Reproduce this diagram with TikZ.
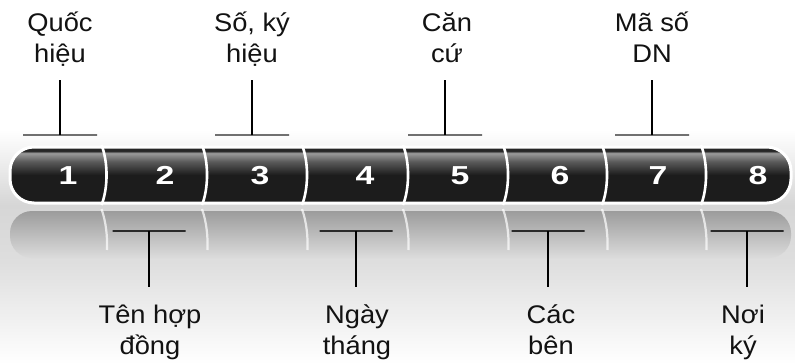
\documentclass[tikz,border=0pt]{standalone}
\usepackage{fontspec}
\setmainfont{Liberation Sans}
\newfontfamily\lblfont[FakeStretch=1.07]{Liberation Sans}
\newfontfamily\numfont[FakeStretch=1.3]{Liberation Sans}

\definecolor{barDark}{HTML}{1C1C1C}
\definecolor{barMid}{HTML}{5A5A5A}
\definecolor{barHi}{HTML}{9A9A9A}
\definecolor{barTop}{HTML}{262626}
\definecolor{bgGray}{HTML}{D6D6D6}
\definecolor{bgLow}{HTML}{DEDEDE}
\definecolor{reflTop}{HTML}{9C9C9C}
\definecolor{tickGray}{HTML}{707070}
\definecolor{tickDark}{HTML}{2A2A2A}

\pgfdeclareverticalshading{barshade}{100bp}{color(0bp)=(barDark); color(25bp)=(barDark); color(50bp)=(barDark); color(62bp)=(barMid); color(69.5bp)=(barHi); color(71.5bp)=(barTop); color(75bp)=(barTop); color(100bp)=(barTop)}

\newcommand{\dpfix}{\rule[-0.25em]{0pt}{0.25em}}
\newcommand{\htfix}{\rule{0pt}{0.95em}}

\tikzset{
  lbl/.style={font=\lblfont\fontsize{25.5}{31}\selectfont, align=center, inner xsep=0pt, text=black!93},
  toplbl/.style={lbl, anchor=south, inner ysep=11pt},
  botlbl/.style={lbl, anchor=north, inner ysep=12pt},
  num/.style={font=\numfont\fontsize{26}{26}\selectfont\bfseries, text=white},
  toptick/.style={draw=tickGray, line width=2pt, inner sep=0pt, outer sep=0pt, minimum width=74pt, minimum height=0pt},
  bottick/.style={draw=tickDark, line width=2.4pt, inner sep=0pt, outer sep=0pt, minimum width=73pt, minimum height=0pt},
  stem/.style={line width=1.2pt},
  divider/.style={draw=white, line width=2.6pt},
  refdiv/.style={draw=white, line width=2.2pt, opacity=.7}
}

\begin{document}
\begin{tikzpicture}[x=1pt, y=-1pt]
  \useasboundingbox (0,0) rectangle (795,364);

  %%background
  \fill[white] (0,0) rectangle (795,364);
  \shade[top color=white, bottom color=bgGray] (0,130) rectangle (795,205);
  \shade[top color=bgGray, bottom color=bgLow] (0,205) rectangle (795,262);
  \shade[top color=bgLow, bottom color=white] (0,262) rectangle (795,364);

  %%reflection
  \shade[rounded corners=22pt, top color=reflTop, bottom color=bgLow!70!bgGray] (10,211) rectangle (791,258);
    \draw[refdiv] (101.5,209) .. controls (106,222) and (107.5,236) .. (107,250);
    \draw[refdiv] (202,209) .. controls (206.5,222) and (208,236) .. (207.5,250);
    \draw[refdiv] (302,209) .. controls (306.5,222) and (308,236) .. (307.5,250);
    \draw[refdiv] (403,209) .. controls (407.5,222) and (409,236) .. (408.5,250);
    \draw[refdiv] (503,209) .. controls (507.5,222) and (509,236) .. (508.5,250);
    \draw[refdiv] (602,209) .. controls (606.5,222) and (608,236) .. (607.5,250);
    \draw[refdiv] (701,209) .. controls (705.5,222) and (707,236) .. (706.5,250);

  %%bar
  \shadedraw[shading=barshade, draw=white, line width=3pt, rounded corners=24pt] (10,147) rectangle (791,203);
    \draw[divider] (101.5,145) .. controls (108.2,162) and (108.2,188) .. (101.5,205);
    \draw[divider] (202,145) .. controls (208.7,162) and (208.7,188) .. (202,205);
    \draw[divider] (302,145) .. controls (308.7,162) and (308.7,188) .. (302,205);
    \draw[divider] (403,145) .. controls (409.7,162) and (409.7,188) .. (403,205);
    \draw[divider] (503,145) .. controls (509.7,162) and (509.7,188) .. (503,205);
    \draw[divider] (602,145) .. controls (608.7,162) and (608.7,188) .. (602,205);
    \draw[divider] (701,145) .. controls (707.7,162) and (707.7,188) .. (701,205);

  \node[num] (s1) at (68,175.5) {1};
  \node[num] (s2) at (165,175.5) {2};
  \node[num] (s3) at (260,175.5) {3};
  \node[num] (s4) at (365,175.5) {4};
  \node[num] (s5) at (460,175.5) {5};
  \node[num] (s6) at (560,175.5) {6};
  \node[num] (s7) at (658,175.5) {7};
  \node[num] (s8) at (758,175.5) {8};

  %%top labels
  \node[toptick] (tick1) at (60,135) {};
  \node[toplbl] (lab1) at (60,80) {Quốc\\hiệu\dpfix};
    \draw[stem] (tick1) to (tick1 |- lab1.south);

  \node[toptick] (tick3) at (252,135) {};
  \node[toplbl] (lab3) at (252,80) {Số, ký\\hiệu\dpfix};
    \draw[stem] (tick3) to (tick3 |- lab3.south);

  \node[toptick] (tick5) at (445,135) {};
  \node[toplbl] (lab5) at (447,80) {Căn\\cứ\dpfix};
    \draw[stem] (tick5) to (tick5 |- lab5.south);

  \node[toptick] (tick7) at (652,135) {};
  \node[toplbl] (lab7) at (652,80) {Mã số\\DN\dpfix};
    \draw[stem] (tick7) to (tick7 |- lab7.south);

  %%bottom labels
  \node[bottick] (tick2) at (149,231) {};
  \node[botlbl] (lab2) at (150,287) {\htfix Tên hợp\\đồng};
    \draw[stem] (tick2) to (tick2 |- lab2.north);

  \node[bottick] (tick4) at (356,231) {};
  \node[botlbl] (lab4) at (357,287) {\htfix Ngày\\tháng};
    \draw[stem] (tick4) to (tick4 |- lab4.north);

  \node[bottick] (tick6) at (548,231) {};
  \node[botlbl] (lab6) at (551,287) {\htfix Các\\bên};
    \draw[stem] (tick6) to (tick6 |- lab6.north);

  \node[bottick] (tick8) at (747,231) {};
  \node[botlbl] (lab8) at (743,287) {\htfix Nơi\\ký};
    \draw[stem] (tick8) to (tick8 |- lab8.north);

\end{tikzpicture}
\end{document}
